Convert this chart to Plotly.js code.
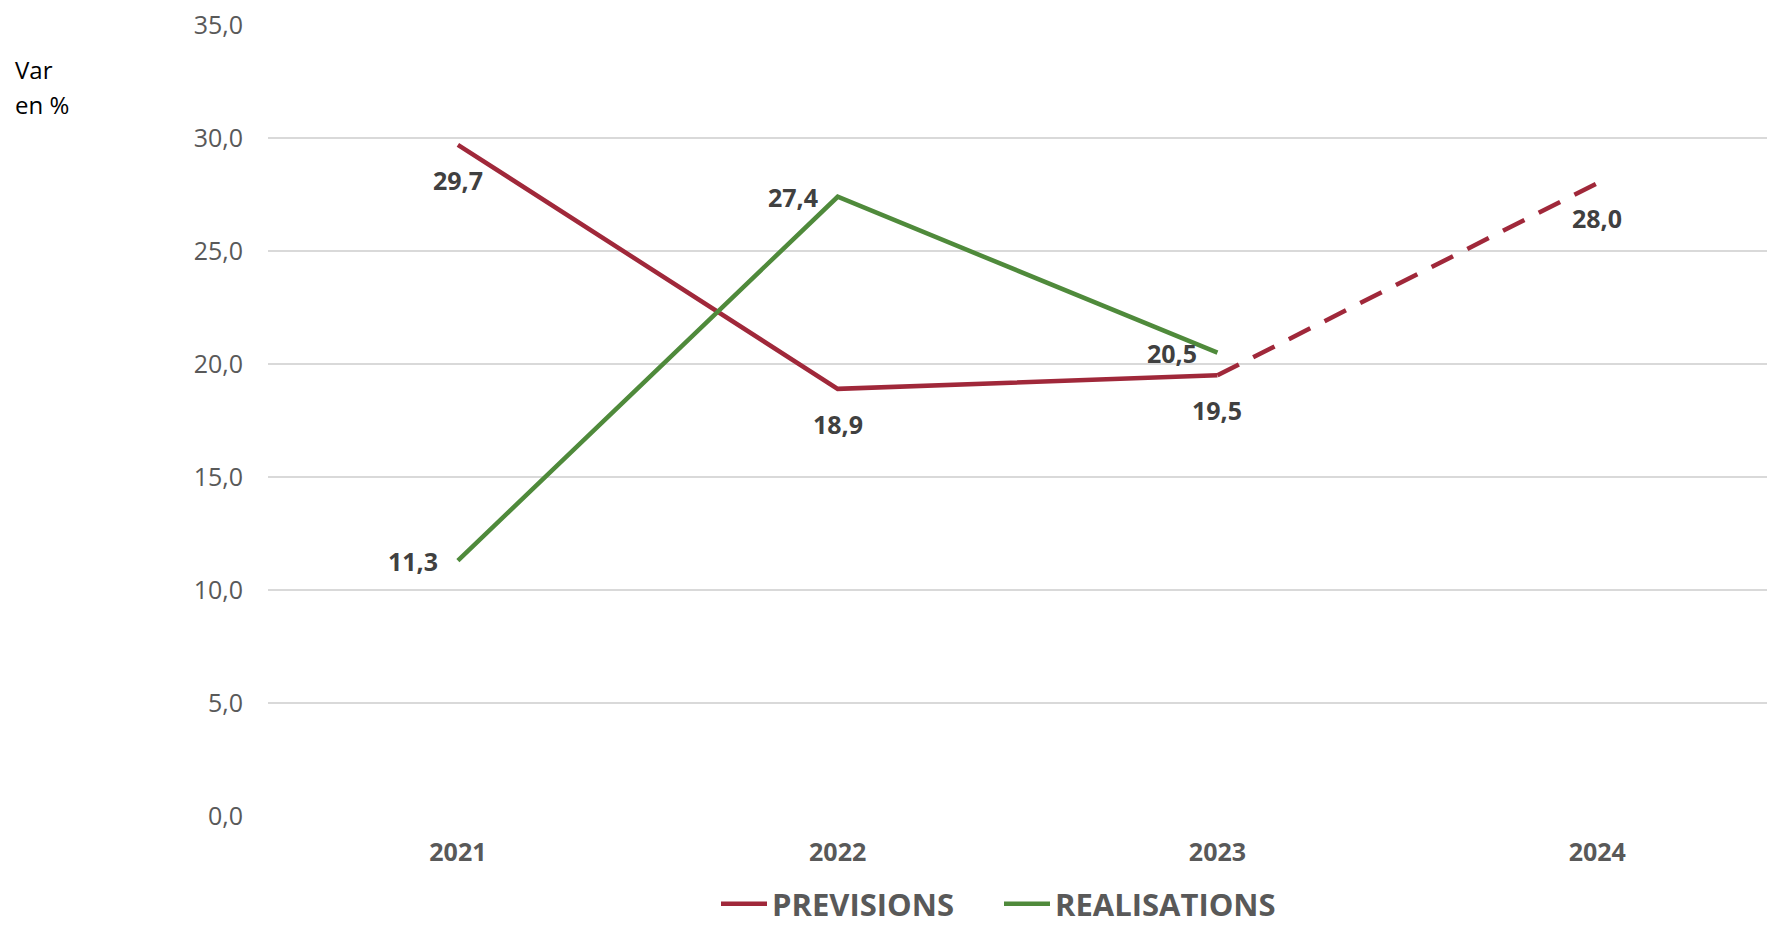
<!DOCTYPE html>
<html>
<head>
<meta charset="utf-8">
<script src="https://cdn.plot.ly/plotly-3.0.1.min.js"></script>
<style>html,body{margin:0;padding:0;background:#fff;}#chart{width:1767px;height:926px;}</style>
</head>
<body>
<div id="chart"></div>
<script>
const years = ['2021', '2022', '2023', '2024'];
const previsions = [29.7, 18.9, 19.5, 28.0];
const realisations = [11.3, 27.4, 20.5];
const yTicks = [0, 5, 10, 15, 20, 25, 30, 35];

const RED = '#A0283A';
const GREEN = '#4F8A3B';
const FONT = 'Open Sans, Noto Sans, sans-serif';

const traces = [
  {
    x: years.slice(0, 3), y: previsions.slice(0, 3), name: 'PREVISIONS',
    mode: 'lines', line: {color: RED, width: 4.5}, hoverinfo: 'skip'
  },
  {
    x: years.slice(2, 4), y: previsions.slice(2, 4), name: 'PREVISIONS (prévision)',
    mode: 'lines', line: {color: RED, width: 4.5, dash: '24px,16px'}, showlegend: false, hoverinfo: 'skip'
  },
  {
    x: years.slice(0, 3), y: realisations, name: 'REALISATIONS',
    mode: 'lines', line: {color: GREEN, width: 4.5}, hoverinfo: 'skip'
  }
];

const fmt = v => v.toFixed(1).replace('.', ',');
const labelFont = {family: FONT, size: 25, color: '#404040', weight: 700};
const annotations = [];
previsions.forEach((v, i) => annotations.push({
  xref: 'x', yref: 'y', x: i, y: v, text: fmt(v), showarrow: false, xanchor: 'center', yanchor: 'middle',
  yshift: -35, font: labelFont
}));
realisations.forEach((v, i) => annotations.push({
  xref: 'x', yref: 'y', x: i, y: v, text: fmt(v), showarrow: false, xanchor: 'center', yanchor: 'middle',
  xshift: -45, font: labelFont
}));
['Var', 'en %'].forEach((t, i) => annotations.push({
  xref: 'paper', yref: 'paper', x: 0, xshift: -255, y: 1, yshift: -44 - 35 * i,
  xanchor: 'left', yanchor: 'middle', text: t, showarrow: false,
  font: {family: FONT, size: 24, color: '#000'}
}));

const layout = {
  width: 1767, height: 926,
  margin: {l: 268, r: 0, t: 25, b: 110},
  paper_bgcolor: '#fff', plot_bgcolor: '#fff',
  separators: ', ',
  font: {family: FONT},
  xaxis: {
    type: 'category', categoryarray: years, range: [-0.5, 3.447],
    showgrid: false, zeroline: false, showline: false, ticks: '',
    tickfont: {family: FONT, size: 25, color: '#595959', weight: 700},
    ticklabelstandoff: 19, fixedrange: true, automargin: false
  },
  yaxis: {
    range: [0, 35], tickvals: yTicks, ticktext: yTicks.map(fmt),
    showgrid: true, gridcolor: '#D9D9D9', gridwidth: 1.5,
    zeroline: false, showline: false, ticks: '',
    tickfont: {family: FONT, size: 25, color: '#595959'},
    ticklabelstandoff: 24, fixedrange: true, automargin: false
  },
  showlegend: true,
  legend: {
    orientation: 'h', xref: 'paper', x: (716 - 268) / 1499, xanchor: 'left',
    yref: 'container', y: 1 - 904 / 926, yanchor: 'middle',
    font: {family: 'Liberation Sans Narrow, Open Sans, sans-serif', size: 31, color: '#595959', weight: 700},
    itemwidth: 46, entrywidth: 222, tracegroupgap: 0, bgcolor: 'rgba(0,0,0,0)'
  },
  annotations: annotations
};

Plotly.newPlot('chart', traces, layout, {displayModeBar: false, staticPlot: true});
</script>
</body>
</html>
